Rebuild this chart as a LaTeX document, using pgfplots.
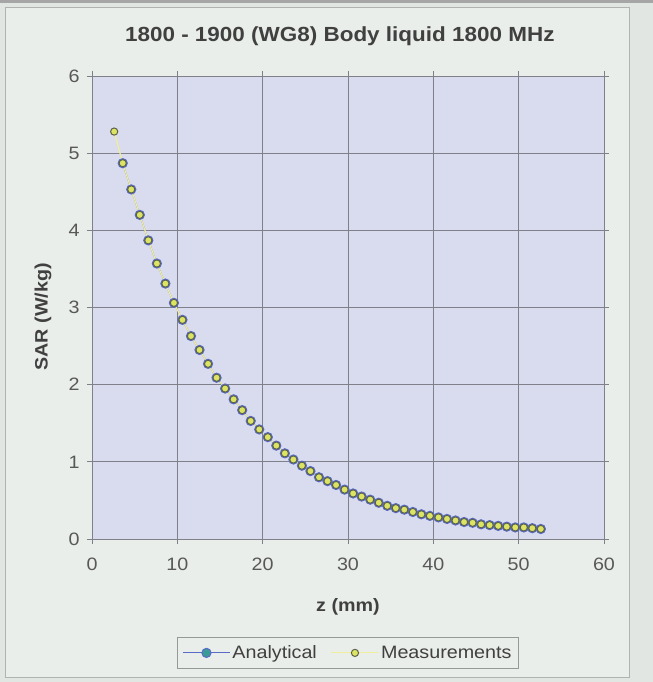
\documentclass[border=0pt]{standalone}
\usepackage{fontspec}
\setmainfont{Liberation Sans}[FakeStretch=1.1]
\usepackage{pgfplots}
\usepackage{pgfplotstable}
\pgfplotsset{compat=1.18}
\definecolor{outerbg}{HTML}{E2E6E2}
\definecolor{chartbg}{HTML}{EAEEEA}
\definecolor{framecol}{HTML}{B0B4B0}
\definecolor{plotbg}{HTML}{D9DBEE}
\definecolor{gridcol}{HTML}{80808A}
\definecolor{txt}{HTML}{404040}
\definecolor{ticktxt}{HTML}{585858}
\definecolor{anblue}{HTML}{5A6AC8}
\definecolor{anteal}{HTML}{3A9A98}
\definecolor{measyel}{HTML}{DCE464}
\definecolor{measedge}{HTML}{5E6048}
\definecolor{measline}{HTML}{F0EE98}

\pgfplotstableread{
z SAR
3.6 4.87
4.6 4.53
5.6 4.20
6.6 3.87
7.6 3.57
8.6 3.31
9.6 3.06
10.6 2.84
11.6 2.63
12.6 2.45
13.6 2.27
14.6 2.09
15.6 1.95
16.6 1.81
17.6 1.67
18.6 1.53
19.6 1.42
20.6 1.32
21.6 1.21
22.6 1.11
23.6 1.03
24.6 0.95
25.6 0.88
26.6 0.80
27.6 0.75
28.6 0.70
29.6 0.64
30.6 0.59
31.6 0.55
32.6 0.51
33.6 0.47
34.6 0.43
35.6 0.40
36.6 0.38
37.6 0.35
38.6 0.32
39.6 0.30
40.6 0.28
41.6 0.26
42.6 0.24
43.6 0.22
44.6 0.21
45.6 0.19
46.6 0.18
47.6 0.17
48.6 0.16
49.6 0.15
50.6 0.15
51.6 0.14
52.6 0.13
}\analytical

\pgfplotstableread{
z SAR
2.6 5.28
3.6 4.87
4.6 4.53
5.6 4.20
6.6 3.87
7.6 3.57
8.6 3.31
9.6 3.06
10.6 2.84
11.6 2.63
12.6 2.45
13.6 2.27
14.6 2.09
15.6 1.95
16.6 1.81
17.6 1.67
18.6 1.53
19.6 1.42
20.6 1.32
21.6 1.21
22.6 1.11
23.6 1.03
24.6 0.95
25.6 0.88
26.6 0.80
27.6 0.75
28.6 0.70
29.6 0.64
30.6 0.59
31.6 0.55
32.6 0.51
33.6 0.47
34.6 0.43
35.6 0.40
36.6 0.38
37.6 0.35
38.6 0.32
39.6 0.30
40.6 0.28
41.6 0.26
42.6 0.24
43.6 0.22
44.6 0.21
45.6 0.19
46.6 0.18
47.6 0.17
48.6 0.16
49.6 0.15
50.6 0.15
51.6 0.14
52.6 0.13
}\measurements

\begin{document}
\begin{tikzpicture}
\fill[outerbg] (0bp,0bp) rectangle (653bp,682bp);
\fill[gray!70] (0bp,679bp) rectangle (653bp,682bp);
\filldraw[fill=chartbg, draw=framecol, line width=1bp] (5bp,4bp) rectangle (629bp,674bp);
\begin{axis}[
  at={(92bp,143bp)}, anchor=south west,
  scale only axis, width=512bp, height=463bp,
  xmin=0, xmax=60, ymin=0, ymax=6,
  xtick={0,10,...,60}, ytick={0,1,...,6},
  grid=major, major grid style={gridcol, line width=0.8bp},
  axis line style={gridcol, line width=0.9bp},
  tick align=outside, major tick length=5bp,
  tick style={gridcol, line width=0.8bp},
  axis background/.style={fill=plotbg},
  /pgf/number format/assume math mode=true,
  tick label style={font=\fontsize{18}{20}\selectfont, text=ticktxt},
  xticklabel style={yshift=-10bp},
  yticklabel style={xshift=-4bp},
  title={1800 - 1900 (WG8) Body liquid 1800 MHz},
  title style={at={(axis description cs:0.484,1.073)}, anchor=center,
    font=\bfseries\fontsize{20.5}{24}\selectfont, text=txt},
  xlabel={z (mm)},
  xlabel style={at={(axis description cs:0.5,-0.147)}, anchor=center,
    font=\bfseries\fontsize{18}{20}\selectfont, text=txt},
  ylabel={SAR (W/kg)},
  ylabel style={at={(axis description cs:-0.0957,0.48)}, anchor=center,
    font=\bfseries\fontsize{18}{20}\selectfont, text=txt},
  legend columns=2,
  legend cell align=left,
  legend image code/.code={
    \draw[mark repeat=2,mark phase=2,#1] plot coordinates {(0bp,0bp) (23.5bp,0bp) (47bp,0bp)};},
  legend style={at={(axis description cs:0.5,-0.246)}, anchor=center,
    draw=framecol!85!black, fill=chartbg, line width=0.8bp,
    font=\fontsize{18}{20}\selectfont, text=txt,
    inner xsep=5bp, inner ysep=6bp,
    /tikz/every even column/.append style={column sep=12bp}},
]
\addplot[anblue, line width=1bp, mark=*, mark size=4.6bp,
  mark options={fill=anteal, draw=anblue, line width=1bp}]
  table[x=z, y=SAR] {\analytical};
\addlegendentry{Analytical}
\addplot[measline, line width=1.2bp, mark=*, mark size=3.6bp,
  mark options={fill=measyel, draw=measedge, line width=1bp}]
  table[x=z, y=SAR] {\measurements};
\addlegendentry{Measurements}
\end{axis}
\end{tikzpicture}
\end{document}
